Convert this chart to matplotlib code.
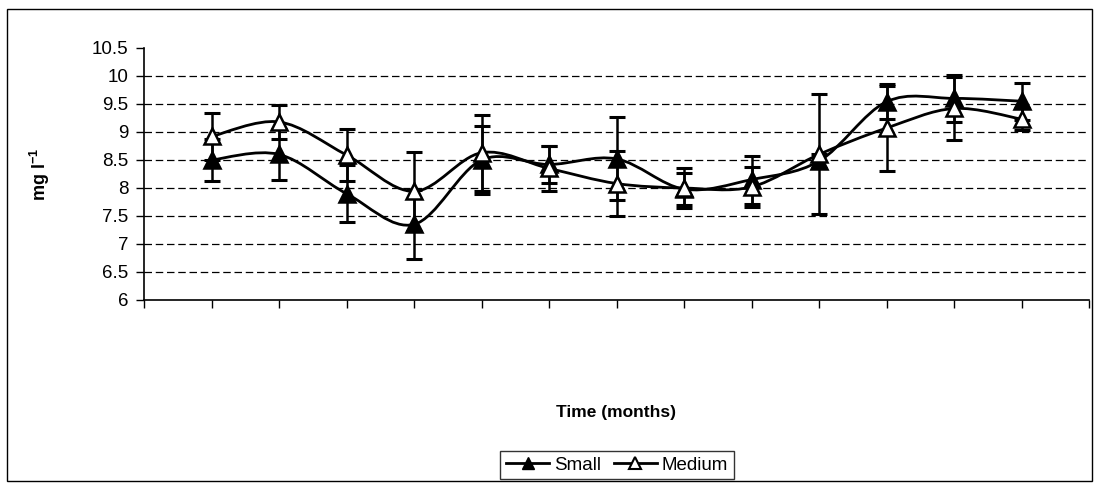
import matplotlib.pyplot as plt
import numpy as np
from matplotlib.path import Path
from matplotlib.patches import PathPatch, Rectangle
from matplotlib.lines import Line2D

plt.rcParams['font.family'] = ['Liberation Sans', 'DejaVu Sans']
plt.rcParams['mathtext.fontset'] = 'custom'
plt.rcParams['mathtext.rm'] = 'Liberation Sans:bold'
plt.rcParams['mathtext.bf'] = 'Liberation Sans:bold'

# data
months = [1, 2, 3, 4, 5, 6, 7, 8, 9, 10, 11, 12, 13]
small = [8.5, 8.6, 7.9, 7.35, 8.5, 8.42, 8.52, 7.98, 8.15, 8.48, 9.54, 9.6, 9.55]
small_err = [0.37, 0.46, 0.51, 0.61, 0.6, 0.33, 0.74, 0.28, 0.43, 0.12, 0.31, 0.42, 0.33]
medium = [8.92, 9.18, 8.59, 7.94, 8.63, 8.35, 8.08, 8.0, 8.02, 8.6, 9.07, 9.42, 9.23]
medium_err = [0.42, 0.3, 0.46, 0.7, 0.68, 0.4, 0.58, 0.35, 0.36, 1.07, 0.76, 0.56, 0.2]
yticks = [6, 6.5, 7, 7.5, 8, 8.5, 9, 9.5, 10, 10.5]
ytick_labels = ['6', '6.5', '7', '7.5', '8', '8.5', '9', '9.5', '10', '10.5']


def smooth_path(x, y):
    # excel style smoothed line: cubic bezier through every point
    p = np.column_stack([x, y]).astype(float)
    n = len(p)
    verts = [p[0]]
    codes = [Path.MOVETO]
    for i in range(n - 1):
        p0 = p[i - 1] if i > 0 else p[i]
        p3 = p[i + 2] if i + 2 < n else p[i + 1]
        c1 = p[i] + (p[i + 1] - p0) / 6.0
        c2 = p[i + 1] - (p3 - p[i]) / 6.0
        verts += [c1, c2, p[i + 1]]
        codes += [Path.CURVE4] * 3
    return Path(verts, codes)


fig = plt.figure(figsize=(10.99, 4.87), dpi=100)
ax = fig.add_axes([144 / 1099, 1 - 300 / 487, 945 / 1099, 252 / 487])

for yv, err, face in [(small, small_err, 'black'), (medium, medium_err, 'white')]:
    ax.add_patch(PathPatch(smooth_path(months, yv), facecolor='none',
                           edgecolor='black', lw=2, zorder=3))
    ax.errorbar(months, yv, yerr=err, fmt='none', ecolor='black',
                elinewidth=1.8, capsize=6, capthick=2.2, zorder=4)
    ax.plot(months, yv, ls='none', marker='^', ms=11.5, mfc=face,
            mec='black', mew=1.8, zorder=5)

for g in yticks[1:-1]:
    ax.axhline(g, color='black', lw=0.9, ls=(0, (6, 3)), zorder=1)

ax.set_xlim(0, 14)
ax.set_ylim(6, 10.5)
ax.set_xticks(np.arange(0, 15))
ax.set_xticklabels([])
ax.set_yticks(yticks)
ax.set_yticklabels(ytick_labels)
ax.tick_params(axis='both', direction='out', length=6, width=1, colors='black',
               labelsize=13.5, pad=5)
ax.spines['top'].set_visible(False)
ax.spines['right'].set_visible(False)
ax.spines['left'].set_linewidth(1.2)
ax.spines['bottom'].set_linewidth(1.2)

ax.set_ylabel(r'mg l$^{-1}$', fontsize=13, fontweight='bold')
ax.yaxis.set_label_coords(-0.097, 0.5)
ax.set_xlabel('Time (months)', fontsize=12.5, fontweight='bold')
ax.xaxis.set_label_coords(0.5, -0.448)
ax.xaxis.label.set_va('center')

handles = [
    Line2D([], [], color='black', lw=2, marker='^', ms=9, mfc='black', mec='black'),
    Line2D([], [], color='black', lw=2, marker='^', ms=9, mfc='white', mec='black', mew=1.5),
]
leg = fig.legend(handles, ['Small', 'Medium'], loc='center', ncol=2,
                 bbox_to_anchor=(617 / 1099, 1 - 465 / 487), fontsize=13.5,
                 frameon=True, fancybox=False, edgecolor='black',
                 handlelength=2.3, handletextpad=0.25, columnspacing=0.7,
                 borderpad=0.3)
leg.get_frame().set_linewidth(1)

fig.patches.append(Rectangle((7 / 1099, 1 - 481 / 487), 1085 / 1099, 472 / 487,
                             transform=fig.transFigure, fill=False,
                             edgecolor='black', lw=1))

fig.savefig('out.png', dpi=100)
